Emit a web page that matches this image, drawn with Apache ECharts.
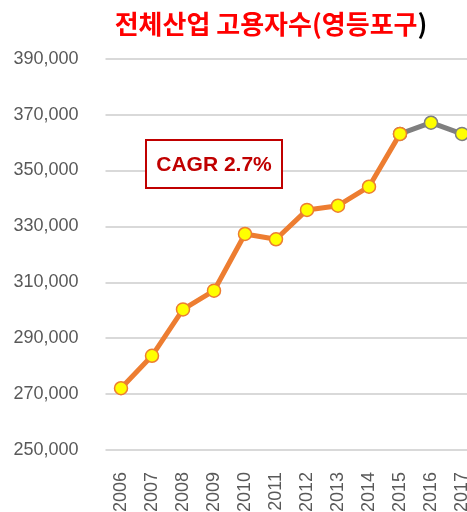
<!DOCTYPE html>
<html style="height: 100%">
<head>
<meta charset="utf-8">
<script src="https://cdn.jsdelivr.net/npm/echarts@6/dist/echarts.min.js"></script>
</head>
<body style="height: 100%; margin: 0; background: #fff;">
<div id="container" style="width: 467px; height: 512px;"></div>
<script type="text/javascript">
var years = ['2006', '2007', '2008', '2009', '2010', '2011', '2012', '2013', '2014', '2015', '2016', '2017'];
// 2006~2015 구간 (주황), 2015~2017 구간 (회색)
var employOrange = [272100, 283700, 300300, 307000, 327300, 325400, 335900, 337400, 344200, 363100, null, null];
var employGray = [null, null, null, null, null, null, null, null, null, 363100, 367100, 363100];
var cagrText = 'CAGR 2.7%';

var font = "'Liberation Sans', Arial, sans-serif";

var myChart = echarts.init(document.getElementById('container'));
var option = {
    animation: false,
    backgroundColor: '#fff',
    title: {
        text: '{r|전체산업 고용자수(영등포구}{k|)}',
        left: 266,
        textAlign: 'center',
        top: 6,
        textStyle: {
            rich: {
                r: { color: '#FF0000', fontSize: 26, fontWeight: 'bold', fontFamily: 'Noto Sans CJK KR' },
                k: { color: '#000', fontSize: 26, fontWeight: 'bold', fontFamily: 'Noto Sans CJK KR' }
            }
        }
    },
    grid: { left: 105.5, top: 58.7, width: 372, height: 391.3, containLabel: false, outerBoundsMode: 'none' },
    xAxis: {
        type: 'category',
        data: years,
        boundaryGap: true,
        axisLine: { show: false },
        axisTick: { show: false },
        axisLabel: {
            rotate: 90,
            margin: 22,
            color: '#595959',
            fontSize: 18,
            fontFamily: font
        }
    },
    yAxis: {
        type: 'value',
        min: 250000,
        max: 390000,
        interval: 20000,
        axisLine: { show: false },
        axisTick: { show: false },
        axisLabel: {
            margin: 27,
            color: '#595959',
            fontSize: 18,
            fontFamily: font,
            formatter: function (v) { return v.toLocaleString('en-US'); }
        },
        splitLine: { lineStyle: { color: '#D9D9D9', width: 2 } }
    },
    series: [
        {
            type: 'line',
            data: employGray,
            lineStyle: { color: '#7F7F7F', width: 5 },
            symbol: 'circle',
            symbolSize: 13,
            itemStyle: { color: '#FFFF00', borderColor: '#7F7F7F', borderWidth: 1.5 },
            z: 2
        },
        {
            type: 'line',
            data: employOrange,
            lineStyle: { color: '#ED7D31', width: 5 },
            symbol: 'circle',
            symbolSize: 13,
            itemStyle: { color: '#FFFF00', borderColor: '#ED7D31', borderWidth: 1.5 },
            z: 3
        }
    ],
    graphic: [
        {
            type: 'rect',
            x: 146,
            y: 140,
            shape: { x: 0, y: 0, width: 136, height: 48 },
            style: { fill: '#fff', stroke: '#C00000', lineWidth: 2 },
            z: 10
        },
        {
            type: 'text',
            x: 214,
            y: 165,
            style: {
                text: cagrText,
                fill: '#C00000',
                font: 'bold 21px ' + font,
                align: 'center',
                verticalAlign: 'middle'
            },
            z: 11
        }
    ]
};
myChart.setOption(option);
</script>
</body>
</html>
